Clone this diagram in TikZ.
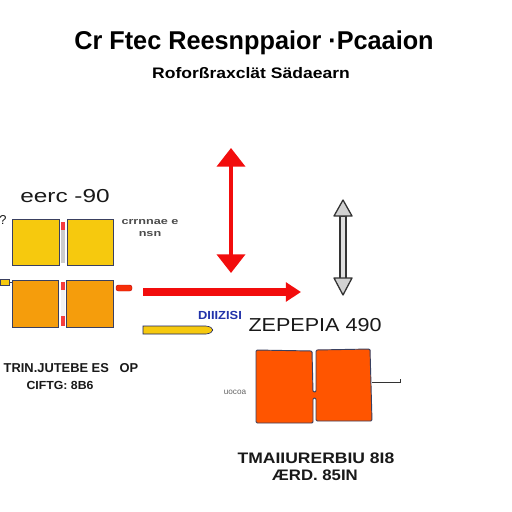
\documentclass[tikz,border=0pt]{standalone}
\usepackage{fontspec}
\setmainfont{Liberation Sans}
\usetikzlibrary{arrows.meta}
\definecolor{ylw}{HTML}{F6C90E}
\definecolor{org}{HTML}{F59D0C}
\definecolor{big}{HTML}{FF5500}
\definecolor{edge}{HTML}{3A4060}
\definecolor{rd}{HTML}{F20D0D}
\definecolor{blu}{HTML}{2233AA}
\tikzset{
  box/.style={draw=edge, line width=0.8pt},
  lbl/.style={inner sep=0pt, font=\bfseries, text=black!90},
  tiny/.style={inner sep=0pt, font=\bfseries\fontsize{8}{9}\selectfont, text=black!70},
  redarrow/.style={draw=rd, line width=3.4pt, {Triangle[length=16pt,width=24pt]}-{Triangle[length=16pt,width=24pt]}},
}
\begin{document}
\begin{tikzpicture}[x=0.03cm,y=-0.03cm]
\useasboundingbox[fill=white] (0,0) rectangle (512,512);
% titles
\node[lbl, text=black, font=\bfseries\fontsize{22}{24}\selectfont] (title) at (254,43) {\scalebox{0.98}[1]{Cr Ftec Reesnppaior ·Pcaaion}};
\node[lbl, text=black, font=\bfseries\fontsize{13}{14}\selectfont] (sub) at (251,73) {\scalebox{1.15}[1]{Roforßraxclät Sädaearn}};
% left group
\node[lbl, font=\fontsize{16}{17}\selectfont] (perc) at (65,196) {\scalebox{1.3}[1]{eerc -90}};
\node[lbl, font=\fontsize{11}{12}\selectfont] (q) at (3,220) {?};
\node[box, fill=ylw, minimum width=48*0.85pt, minimum height=47*0.85pt, inner sep=0pt] (y1) at (36,242.5) {};
\node[box, fill=ylw, minimum width=47*0.85pt, minimum height=47*0.85pt, inner sep=0pt] (y2) at (90.5,242.5) {};
\fill[gray!40] (61,222) rectangle (65,263);
\fill[rd!80] (61,222) rectangle (65,230);
\node[tiny, align=center] (ytxt) at (150,228) {\scalebox{1.35}[1]{crrnnae e}\\[2pt]\scalebox{1.35}[1]{nsn}};
\node[box, fill=org, minimum width=47*0.85pt, minimum height=48*0.85pt, inner sep=0pt] (o1) at (35.5,304) {};
\node[box, fill=org, minimum width=48*0.85pt, minimum height=48*0.85pt, inner sep=0pt] (o2) at (90,304) {};
\fill[gray!10] (61,282) rectangle (65,326);
\fill[rd!80] (61,282) rectangle (65,290);
\fill[rd!80] (61,316) rectangle (65,326);
\draw[draw=edge, fill=ylw, line width=0.5pt] (0,279) rectangle (9,285);
\draw[draw=edge, line width=0.5pt] (9,282) -- (o1.west|-0,282);
\draw[draw=rd!80!black, fill=rd!70!orange, line width=0.4pt, rounded corners=2pt] (116,285) rectangle (132,291);
\coordinate (o2e) at (116,288);
% red arrows
\coordinate (h0) at (143,292);
\coordinate (h1) at (301,292);
\draw[draw=rd, line width=6pt, -{Triangle[length=13pt,width=16pt]}] (h0) -- (h1);
\coordinate (v0) at (231,148);
\coordinate (v1) at (231,273);
\draw[redarrow] (v0) -- (v1);
% gray double arrow
\coordinate (g0) at (343,200);
\coordinate (g1) at (343,295);
\draw[draw=black!80, fill=gray!25, line width=1.1pt] (340,216) rectangle (346,279);
\draw[draw=black!80, fill=gray!35, line width=1.1pt, line join=round] (g0) -- (352,216) -- (334,216) -- cycle;
\draw[draw=black!80, fill=gray!35, line width=1.1pt, line join=round] (g1) -- (352,278) -- (334,278) -- cycle;
% blue label and pencil
\node[inner sep=0pt, font=\bfseries\fontsize{10}{11}\selectfont, text=blu] (btxt) at (220,315) {\scalebox{1.1}[1]{DIIIZISI}};
\draw[draw=blu!60!black, fill=ylw, line width=0.5pt] (143,326) -- (206,326) .. controls (215,327) and (215,333) .. (206,334) -- (143,334) -- cycle;
\coordinate (pen) at (143,330);
% bottom left texts
\node[lbl, font=\bfseries\fontsize{11}{12}\selectfont] (bl1) at (71,368) {TRIN.JUTEBE ES\ \ \ OP};
\node[lbl, font=\bfseries\fontsize{10}{11}\selectfont] (bl2) at (60,385) {\scalebox{1.05}[1]{CIFTG: 8B6}};
% right group
\node[lbl, font=\fontsize{16}{17}\selectfont] (zep) at (315,325) {\scalebox{1.15}[1]{ZEPEPIA 490}};
\draw[draw=edge, fill=big, line width=0.8pt, rounded corners=1pt]
  (256,350) -- (312,351) -- (313,392) -- (316,392) -- (316,350) -- (370,349) -- (372,421) -- (316,421) -- (316,398) -- (313,398) -- (313,423) -- (256,423) -- cycle;
\coordinate (bb) at (372,382);
\coordinate (be) at (400,382);
\draw[draw=black!80, line width=0.7pt] (bb) -- (be) -- (400,379);
\node[inner sep=0pt, font=\fontsize{7}{8}\selectfont, text=black!60] (uoco) at (235,392) {uocoa};
\node[lbl, font=\bfseries\fontsize{13}{14}\selectfont] (br1) at (316,458) {\scalebox{1.15}[1]{TMAIIURERBIU 8I8}};
\node[lbl, font=\bfseries\fontsize{13}{14}\selectfont] (br2) at (315,475) {\scalebox{1.1}[1]{ÆRD. 85IN}};
\end{tikzpicture}
\end{document}
